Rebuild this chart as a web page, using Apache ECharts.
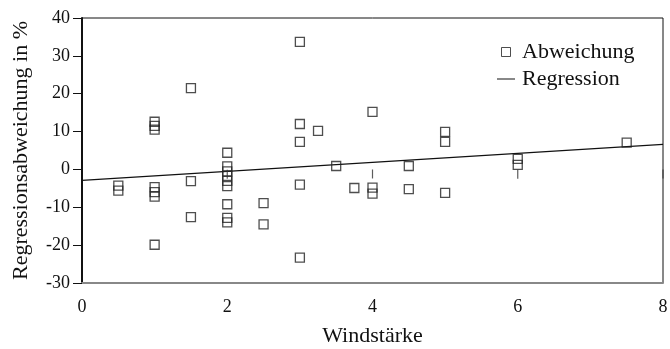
<!DOCTYPE html>
<html>
<head>
<meta charset="utf-8">
<script src="https://cdn.jsdelivr.net/npm/echarts@6/dist/echarts.min.js"></script>
<style>
  html, body { margin: 0; padding: 0; background: #fff; }
  #chart { width: 670px; height: 349px; }
</style>
</head>
<body>
<div id="chart"></div>
<script>
// Windstärke (x) und Regressionsabweichung in % (y)
const abwX = [0.5, 0.5, 1, 1, 1, 1, 1, 1, 1, 1.5, 1.5, 1.5,
  2, 2, 2, 2, 2, 2, 2, 2, 2, 2.5, 2.5,
  3, 3, 3, 3, 3, 3.25, 3.5, 3.75, 4, 4, 4, 4.5, 4.5, 5, 5, 5, 6, 6, 7.5]
const abwY = [-4.3, -5.6, 12.6, 11.5, 10.5, -4.7, -6.0, -7.2, -19.9, 21.5, -3.1, -12.6,
  4.4, 0.8, -0.5, -1.7, -3.0, -4.4, -9.2, -12.8, -14.0, -8.9, -14.5,
  33.7, 12.0, 7.3, -4.0, -23.3, 10.2, 0.9, -4.9, 15.2, -4.8, -6.4, 0.9, -5.2, 9.9, 7.3, -6.2, 2.8, 1.2, 7.1]

// kurze senkrechte Striche im Original
const strichX = [2, 4, 6, 8]
const strichY = [-1.3, -1.2, -1.3, -1.2]

// Regressionsgerade (Endpunkte)
const regX = [0, 8]
const regY = [-2.9, 6.6]

const xTicks = { min: 0, max: 8, interval: 2 }
const yTicks = { min: -30, max: 40, interval: 10 }

const zip = (xs, ys) => xs.map((x, i) => [x, ys[i]])

const font = 'Liberation Serif, Times New Roman, serif'
const squarePath = 'path://M0,0L10,0L10,10L0,10Z'

const chart = echarts.init(document.getElementById('chart'), null, { renderer: 'canvas' })

chart.setOption({
  animation: false,
  backgroundColor: '#fff',
  textStyle: { fontFamily: font, color: '#111' },
  grid: {
    left: 82, right: 7, top: 18, bottom: 66,
    outerBoundsMode: 'none',
    show: true, borderColor: '#111', borderWidth: 1
  },
  legend: {
    orient: 'vertical',
    left: 492,
    top: 36,
    itemWidth: 18,
    itemHeight: 9,
    itemGap: 5,
    textStyle: { fontFamily: font, fontSize: 22, color: '#111', padding: [0, 0, 0, 2] },
    data: [
      { name: 'Abweichung', icon: squarePath,
        itemStyle: { color: 'transparent', borderColor: '#222', borderWidth: 1 } },
      { name: 'Regression', icon: 'path://M0,0L18,0L18,1L0,1Z',
        itemStyle: { color: '#111' } }
    ]
  },
  xAxis: {
    type: 'value',
    ...xTicks,
    name: 'Windstärke',
    nameLocation: 'middle',
    nameGap: 42,
    nameTextStyle: { fontFamily: font, fontSize: 22, color: '#111' },
    axisLine: { show: true, onZero: false, lineStyle: { color: '#888', width: 2 } },
    axisTick: { show: false },
    axisLabel: { fontFamily: font, fontSize: 18, color: '#111', margin: 15 },
    splitLine: { show: false }
  },
  yAxis: {
    type: 'value',
    ...yTicks,
    name: 'Regressionsabweichung in %',
    nameLocation: 'middle',
    nameRotate: 90,
    nameGap: 50,
    nameTextStyle: { fontFamily: font, fontSize: 22, color: '#111' },
    axisLine: { show: true, onZero: false, lineStyle: { color: '#111', width: 2 } },
    axisTick: { show: true, inside: false, length: 9, lineStyle: { color: '#111', width: 1 } },
    axisLabel: { fontFamily: font, fontSize: 18, color: '#111', margin: 12 },
    splitLine: { show: false }
  },
  series: [
    {
      name: 'Abweichung',
      type: 'scatter',
      data: zip(abwX, abwY),
      symbol: squarePath,
      symbolSize: 9,
      itemStyle: { color: 'transparent', borderColor: '#222', borderWidth: 1.3 },
      z: 3
    },
    {
      name: 'Strich',
      type: 'scatter',
      data: zip(strichX, strichY),
      symbol: 'rect',
      symbolSize: [1.2, 9],
      itemStyle: { color: '#333' },
      z: 3
    },
    {
      name: 'Regression',
      type: 'line',
      data: zip(regX, regY),
      symbol: 'none',
      lineStyle: { color: '#111', width: 1.3 },
      z: 2
    }
  ]
})
</script>
</body>
</html>
